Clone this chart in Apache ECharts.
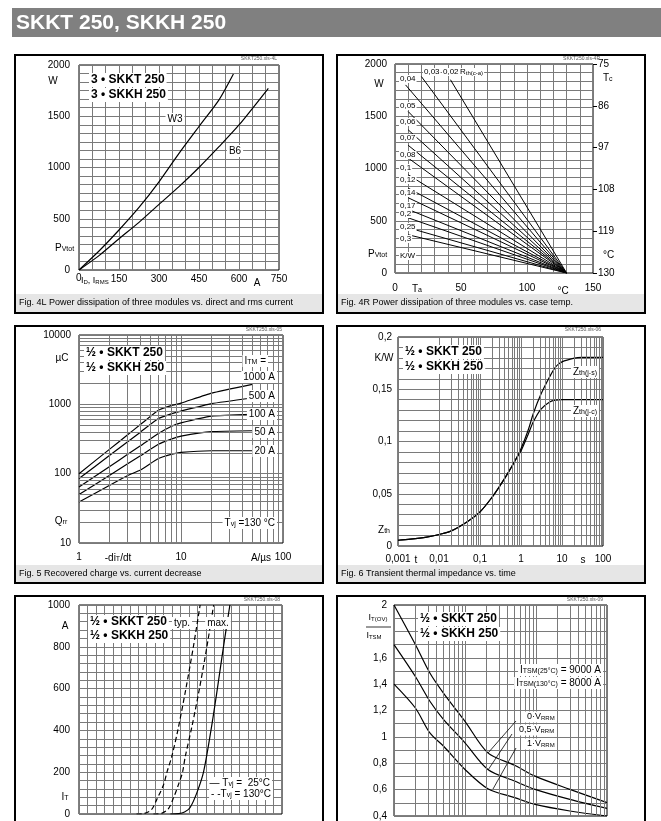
<!DOCTYPE html>
<html>
<head>
<meta charset="utf-8">
<script src="https://cdn.jsdelivr.net/npm/echarts@6/dist/echarts.min.js"></script>
<style>
html, body { margin: 0; padding: 0; background: #fff; }
#main { width: 661px; height: 821px; }
</style>
</head>
<body>
<div id="main"></div>
<script>
// Fig. 4L  power dissipation vs I_D / I_RMS
const w3Amps = [0, 75, 150, 225, 300, 375, 450, 525, 579];
const w3Watts = [0, 185, 390, 610, 860, 1138, 1400, 1660, 1912];
const b6Amps = [0, 75, 150, 225, 300, 375, 450, 525, 600, 710];
const b6Watts = [0, 140, 305, 465, 640, 813, 1000, 1203, 1415, 1773];

// Fig. 4R  power dissipation vs ambient temp, one line per Rth(c-a)
const rthNames = ['0,02', '0,03', '0,04', '0,05', '0,06', '0,07', '0,08', '0,1', '0,12', '0,14', '0,17', '0,2', '0,25', '0,3'];
const rthStartTa = [42, 20, 8, 10, 10, 10, 10, 10, 10, 10, 10, 10, 10, 10];
const rthStartP = [1850, 1880, 1800, 1545, 1370, 1222, 1100, 940, 812, 720, 608, 528, 433, 366];
const rthEndTa = 130;

// Fig. 5  recovered charge vs -di/dt
const didt = [1, 2, 3, 4, 6, 8, 10, 20, 50];
const qrr1000 = [100, 226, 364, 511, 822, 960, 1040, 1450, 1940];
const qrr500 = [85, 184, 288, 397, 624, 730, 800, 1024, 1235];
const qrr100 = [64, 127, 190, 252, 380, 480, 540, 676, 716];
const qrr50 = [50, 95, 139, 181, 265, 315, 348, 404, 416];
const qrr20 = [39, 68, 94, 113, 165, 190, 203, 214, 214];
const itmNames = ['1000 A', '500 A', '100 A', '50 A', '20 A'];

// Fig. 6  transient thermal impedance
const tShared = [0.001, 0.002, 0.005, 0.01, 0.02, 0.05, 0.1, 0.2, 0.3, 0.5, 0.8];
const zShared = [0.0055, 0.0065, 0.0085, 0.011, 0.0145, 0.0235, 0.0326, 0.047, 0.057, 0.0709, 0.085];
const tJs = [1, 1.5, 2, 3, 5, 7, 10, 20, 30, 100];
const zJs = [0.093, 0.111, 0.1268, 0.1444, 0.1619, 0.1715, 0.1762, 0.1798, 0.1805, 0.1805];
const tJc = [1, 1.5, 2, 3, 5, 7, 10, 100];
const zJc = [0.091, 0.107, 0.1188, 0.1306, 0.1379, 0.1396, 0.14, 0.14];

// Fig. 7  on-state characteristics
const vtTyp130 = [0.85, 0.97, 1.07, 1.15, 1.25, 1.30, 1.37, 1.46, 1.58, 1.69, 1.79];
const itTyp130 = [0, 3, 20, 70, 140, 200, 274, 400, 600, 800, 1000];
const vtMax130 = [1.10, 1.22, 1.32, 1.40, 1.48, 1.53, 1.57, 1.67, 1.78, 1.89, 1.99];
const itMax130 = [0, 3, 25, 80, 150, 200, 274, 420, 600, 800, 1000];
const vtTyp25 = [1.35, 1.47, 1.56, 1.64, 1.74, 1.84, 1.95, 2.045, 2.135, 2.23];
const itTyp25 = [0, 2, 10, 30, 100, 200, 400, 600, 800, 1000];

// Fig. 9  surge overload current vs time
const tSurge = [1, 2, 3.2, 5, 10, 21, 50, 97, 300, 1000];
const ov0 = [2.0, 1.70, 1.484, 1.33, 1.118, 0.879, 0.785, 0.702, 0.602, 0.501];
const ov05 = [1.7, 1.458, 1.27, 1.131, 0.955, 0.753, 0.665, 0.602, 0.526, 0.458];
const ov1 = [1.4, 1.219, 1.03, 0.929, 0.753, 0.607, 0.539, 0.488, 0.438, 0.40];

const GRID = '#7a7a7a';
const FONT = '"Liberation Sans", Arial, Helvetica, sans-serif';

const zip = (xs, ys) => xs.map((x, i) => [x, ys[i]]);
const comma = v => String(+(+v).toPrecision(6)).replace('.', ',');
const plain = v => String(+(+v).toPrecision(6));

// 2..9 lines inside each decade, for the log grids
function logMinors(lo, hi) {
  const out = [];
  for (let d = lo; d < hi * 0.999; d *= 10) {
    for (let k = 2; k <= 9; k++) out.push(+(d * k).toPrecision(6));
  }
  return out;
}

function lbl(margin, formatter) {
  return { color: '#000', fontSize: 10, fontFamily: FONT, margin: margin, formatter: formatter || plain };
}

function linAxis(grid, min, max, interval, minor, label) {
  return {
    gridIndex: grid, type: 'value', min: min, max: max, interval: interval,
    axisLine: { show: false }, axisTick: { show: false },
    splitLine: { show: true, lineStyle: { color: GRID, width: 1 } },
    minorTick: { show: false, splitNumber: minor },
    minorSplitLine: { show: true, lineStyle: { color: GRID, width: 1 } },
    axisLabel: label
  };
}

function logAxis(grid, min, max, label) {
  return {
    gridIndex: grid, type: 'log', logBase: 10, min: min, max: max,
    axisLine: { show: false }, axisTick: { show: false },
    splitLine: { show: true, lineStyle: { color: GRID, width: 1 } },
    axisLabel: label
  };
}

function curve(xi, yi, data, opt) {
  opt = opt || {};
  return {
    type: 'line', xAxisIndex: xi, yAxisIndex: yi, data: data,
    symbol: 'none', showSymbol: false, silent: true, z: 3,
    smooth: opt.smooth || false,
    lineStyle: { color: '#000', width: opt.width || 1.2, type: opt.dash ? [5, 3] : 'solid' }
  };
}

// invisible series that only carries the log minor grid lines
function logGrid(xi, yi, corner, xs, ys) {
  return {
    type: 'line', xAxisIndex: xi, yAxisIndex: yi, data: [corner],
    symbol: 'none', silent: true, z: 1, lineStyle: { opacity: 0 },
    markLine: {
      silent: true, symbol: ['none', 'none'], animation: false,
      label: { show: false },
      lineStyle: { color: GRID, width: 1, type: 'solid' },
      emphasis: { disabled: true },
      data: xs.map(v => ({ xAxis: v })).concat(ys.map(v => ({ yAxis: v })))
    }
  };
}

function T(x, y, text, size, opt) {
  opt = opt || {};
  const st = {
    text: text, fill: opt.fill || '#000',
    font: (opt.bold ? 'bold ' : '') + size + 'px ' + FONT,
    align: opt.align || 'left', textAlign: opt.align || 'left',
    verticalAlign: 'middle', textVerticalAlign: 'middle',
    rich: {
      s: { fontSize: Math.round(size * 0.7), fontFamily: FONT, fill: opt.fill || '#000', verticalAlign: 'bottom' }
    }
  };
  if (opt.bg) { st.backgroundColor = '#fff'; st.padding = opt.pad || [1, 2]; }
  return { type: 'text', x: x, y: y, z: 50, silent: true, style: st };
}
function frame(x, y, w, h) {
  return { type: 'rect', z: 60, silent: true, shape: { x: x, y: y, width: w, height: h }, style: { fill: 'none', stroke: '#000', lineWidth: 2 } };
}
function box(x, y, w, h, fill) {
  return { type: 'rect', z: 1, silent: true, shape: { x: x, y: y, width: w, height: h }, style: { fill: fill } };
}
function seg(x1, y1, x2, y2) {
  return { type: 'line', z: 49, silent: true, shape: { x1: x1, y1: y1, x2: x2, y2: y2 }, style: { stroke: '#000', lineWidth: 0.8 } };
}

const rthLabelY = [79, 106, 122, 138, 155, 168, 180, 193, 206, 214, 227, 239];
const itmLabelY = [377, 396, 414, 432, 451];

const graphics = [
  box(12, 8, 649, 29, '#808080'),
  T(16, 23, 'SKKT 250, SKKH 250', 21, { bold: true, fill: '#fff' }),

  frame(15, 55, 308, 258), frame(337, 55, 308, 258),
  frame(15, 326, 308, 257), frame(337, 326, 308, 257),
  frame(15, 596, 308, 240), frame(337, 596, 308, 240),
  box(16, 294, 306, 18, '#e6e6e6'), box(338, 294, 306, 18, '#e6e6e6'),
  box(16, 565, 306, 17, '#e6e6e6'), box(338, 565, 306, 17, '#e6e6e6'),
  T(19, 303, 'Fig. 4L Power dissipation of three modules vs. direct and rms current', 9),
  T(341, 303, 'Fig. 4R Power dissipation of three modules vs. case temp.', 9),
  T(19, 574, 'Fig. 5 Recovered charge vs. current decrease', 9),
  T(341, 574, 'Fig. 6 Transient thermal impedance vs. time', 9),

  T(277, 59, 'SKKT250.xls-4L', 5, { align: 'right', fill: '#555' }),
  T(600, 59, 'SKKT250.xls-4R', 5, { align: 'right', fill: '#555' }),
  T(282, 330, 'SKKT250.xls-05', 5, { align: 'right', fill: '#555' }),
  T(601, 330, 'SKKT250.xls-06', 5, { align: 'right', fill: '#555' }),
  T(280, 600, 'SKKT250.xls-08', 5, { align: 'right', fill: '#555' }),
  T(603, 600, 'SKKT250.xls-09', 5, { align: 'right', fill: '#555' }),

  // Fig. 4L
  T(53, 81, 'W', 10, { align: 'center' }),
  T(55, 248, 'P{s|Vtot}', 10),
  T(76, 278, '0', 10),
  T(81, 281, 'I{s|D}, I{s|RMS}', 9),
  T(257, 283, 'A', 10, { align: 'center' }),
  T(89, 80, '3 • SKKT 250', 12, { bold: true, bg: true }),
  T(89, 95, '3 • SKKH 250', 12, { bold: true, bg: true }),
  T(175, 119, 'W3', 10, { align: 'center', bg: true }),
  T(235, 151, 'B6', 10, { align: 'center', bg: true }),

  // Fig. 4R
  T(379, 84, 'W', 10, { align: 'center' }),
  T(368, 254, 'P{s|Vtot}', 10),
  T(417, 289, 'T{s|a}', 10, { align: 'center' }),
  T(563, 291, '°C', 10, { align: 'center' }),
  T(603, 78, 'T{s|c}', 10),
  T(603, 255, '°C', 10),
  T(423, 72, '0,03', 8, { bg: true, pad: [0, 1] }),
  T(442, 72, '0,02', 8, { bg: true, pad: [0, 1] }),
  T(459, 72, 'R{s|th(c-a)}', 8, { bg: true, pad: [0, 1] }),
  T(399, 256, 'K/W', 8, { bg: true, pad: [0, 1] }),

  // Fig. 5
  T(62, 358, 'µC', 10, { align: 'center' }),
  T(61, 521, 'Q{s|rr}', 10, { align: 'center' }),
  T(118, 558, '-di{s|T}/dt', 10, { align: 'center' }),
  T(261, 558, 'A/µs', 10, { align: 'center' }),
  T(84, 353, '½ • SKKT 250', 12, { bold: true, bg: true }),
  T(84, 368, '½ • SKKH 250', 12, { bold: true, bg: true }),
  T(268, 361, 'I{s|TM} =', 10, { align: 'right', bg: true }),
  T(277, 523, 'T{s|vj} =130 °C', 10, { align: 'right', bg: true }),

  // Fig. 6
  T(384, 358, 'K/W', 10, { align: 'center' }),
  T(384, 530, 'Z{s|th}', 10, { align: 'center' }),
  T(416, 560, 't', 10, { align: 'center' }),
  T(583, 560, 's', 10, { align: 'center' }),
  T(403, 352, '½ • SKKT 250', 12, { bold: true, bg: true }),
  T(403, 367, '½ • SKKH 250', 12, { bold: true, bg: true }),
  T(571, 372, 'Z{s|th(j-s)}', 10, { bg: true }),
  T(571, 411, 'Z{s|th(j-c)}', 10, { bg: true }),

  // Fig. 7
  T(65, 626, 'A', 10, { align: 'center' }),
  T(65, 797, 'I{s|T}', 10, { align: 'center' }),
  T(88, 622, '½ • SKKT 250', 12, { bold: true, bg: true }),
  T(88, 636, '½ • SKKH 250', 12, { bold: true, bg: true }),
  T(182, 623, 'typ.', 10, { align: 'center', bg: true }),
  T(218, 623, 'max.', 10, { align: 'center', bg: true }),
  T(272, 783, '— T{s|vj} =  25°C', 10, { align: 'right', bg: true }),
  T(273, 794, '- -T{s|vj} = 130°C', 10, { align: 'right', bg: true }),

  // Fig. 9
  T(378, 618, 'I{s|T(OV)}', 9, { align: 'center' }),
  seg(366, 627, 391, 627),
  T(374, 636, 'I{s|TSM}', 9, { align: 'center' }),
  T(418, 619, '½ • SKKT 250', 12, { bold: true, bg: true }),
  T(418, 634, '½ • SKKH 250', 12, { bold: true, bg: true }),
  T(603, 670, 'I{s|TSM(25°C)} = 9000 A', 10, { align: 'right', bg: true }),
  T(603, 683, 'I{s|TSM(130°C)} = 8000 A', 10, { align: 'right', bg: true }),
  T(525, 717, '0·V{s|RRM}', 9, { bg: true }),
  T(517, 730, '0,5·V{s|RRM}', 9, { bg: true }),
  T(525, 744, '1·V{s|RRM}', 9, { bg: true }),
  seg(488, 753, 516, 721),
  seg(488, 770, 512, 734),
  seg(493, 789, 516, 748)
];

rthNames.slice(2).forEach((n, i) => {
  graphics.push(T(399, rthLabelY[i], n, 8, { bg: true, pad: [0, 1] }));
});
itmNames.forEach((n, i) => {
  graphics.push(T(277, itmLabelY[i], n, 10, { align: 'right', bg: true }));
});

const gridBox = { show: true, borderColor: '#000', borderWidth: 1, backgroundColor: 'transparent' };

const series = [
  curve(0, 0, zip(w3Amps, w3Watts), { smooth: 0.25 }),
  curve(0, 0, zip(b6Amps, b6Watts), { smooth: 0.25 })
];
rthNames.forEach((n, i) => {
  series.push(curve(1, 1, [[rthStartTa[i], rthStartP[i]], [rthEndTa, 0]], { width: 1 }));
});
series.push(logGrid(2, 3, [1, 10], logMinors(1, 100), logMinors(10, 10000)));
[qrr1000, qrr500, qrr100, qrr50, qrr20].forEach(q => {
  series.push(curve(2, 3, zip(didt, q), { smooth: 0.15 }));
});
series.push(logGrid(3, 4, [0.001, 0], logMinors(0.001, 100), []));
series.push(curve(3, 4, zip(tShared.concat(tJs), zShared.concat(zJs)), { smooth: 0.3 }));
series.push(curve(3, 4, zip(tShared.concat(tJc), zShared.concat(zJc)), { smooth: 0.3 }));
series.push(curve(4, 5, zip(vtTyp130, itTyp130), { smooth: 0.3, dash: true }));
series.push(curve(4, 5, zip(vtMax130, itMax130), { smooth: 0.3, dash: true }));
series.push(curve(4, 5, zip(vtTyp25, itTyp25), { smooth: 0.3 }));
series.push(logGrid(5, 6, [1, 0.4], logMinors(1, 1000), []));
[ov0, ov05, ov1].forEach(v => {
  series.push(curve(5, 6, zip(tSurge, v), { smooth: 0.3 }));
});

const option = {
  animation: false,
  backgroundColor: '#fff',
  grid: [
    Object.assign({ left: 79, top: 65, width: 200, height: 205 }, gridBox),
    Object.assign({ left: 395, top: 64, width: 198, height: 209 }, gridBox),
    Object.assign({ left: 79, top: 335, width: 204, height: 208 }, gridBox),
    Object.assign({ left: 398, top: 337, width: 205, height: 209 }, gridBox),
    Object.assign({ left: 79, top: 605, width: 203, height: 209 }, gridBox),
    Object.assign({ left: 394, top: 605, width: 213, height: 212 }, gridBox)
  ],
  xAxis: [
    linAxis(0, 0, 750, 150, 3, lbl(4, v => (v === 0 ? '' : plain(v)))),
    linAxis(1, 0, 150, 50, 5, lbl(10)),
    logAxis(2, 1, 100, lbl(9)),
    logAxis(3, 0.001, 100, lbl(8, comma)),
    linAxis(4, 0, 3, 0.5, 4, { show: false }),
    logAxis(5, 1, 1000, { show: false })
  ],
  yAxis: [
    linAxis(0, 0, 2000, 500, 6, lbl(9)),
    linAxis(1, 0, 2000, 500, 6, lbl(8)),
    {
      gridIndex: 1, type: 'value', position: 'right', inverse: true,
      min: 75, max: 130, interval: 11,
      axisLine: { show: false },
      axisTick: { show: true, inside: false, length: 4, lineStyle: { color: '#000', width: 1 } },
      splitLine: { show: false },
      axisLabel: lbl(5)
    },
    logAxis(2, 10, 10000, lbl(8, v => String(Math.round(v)))),
    linAxis(3, 0, 0.2, 0.05, 5, lbl(6, comma)),
    linAxis(4, 0, 1000, 200, 5, lbl(9)),
    linAxis(5, 0.4, 2, 0.2, 2, lbl(7, v => (Math.abs(v - 1.8) < 1e-6 ? '' : comma(v))))
  ],
  series: series,
  graphic: graphics
};

const chart = echarts.init(document.getElementById('main'));
chart.setOption(option);
window.onresize = function () { chart.resize(); };
</script>
</body>
</html>
